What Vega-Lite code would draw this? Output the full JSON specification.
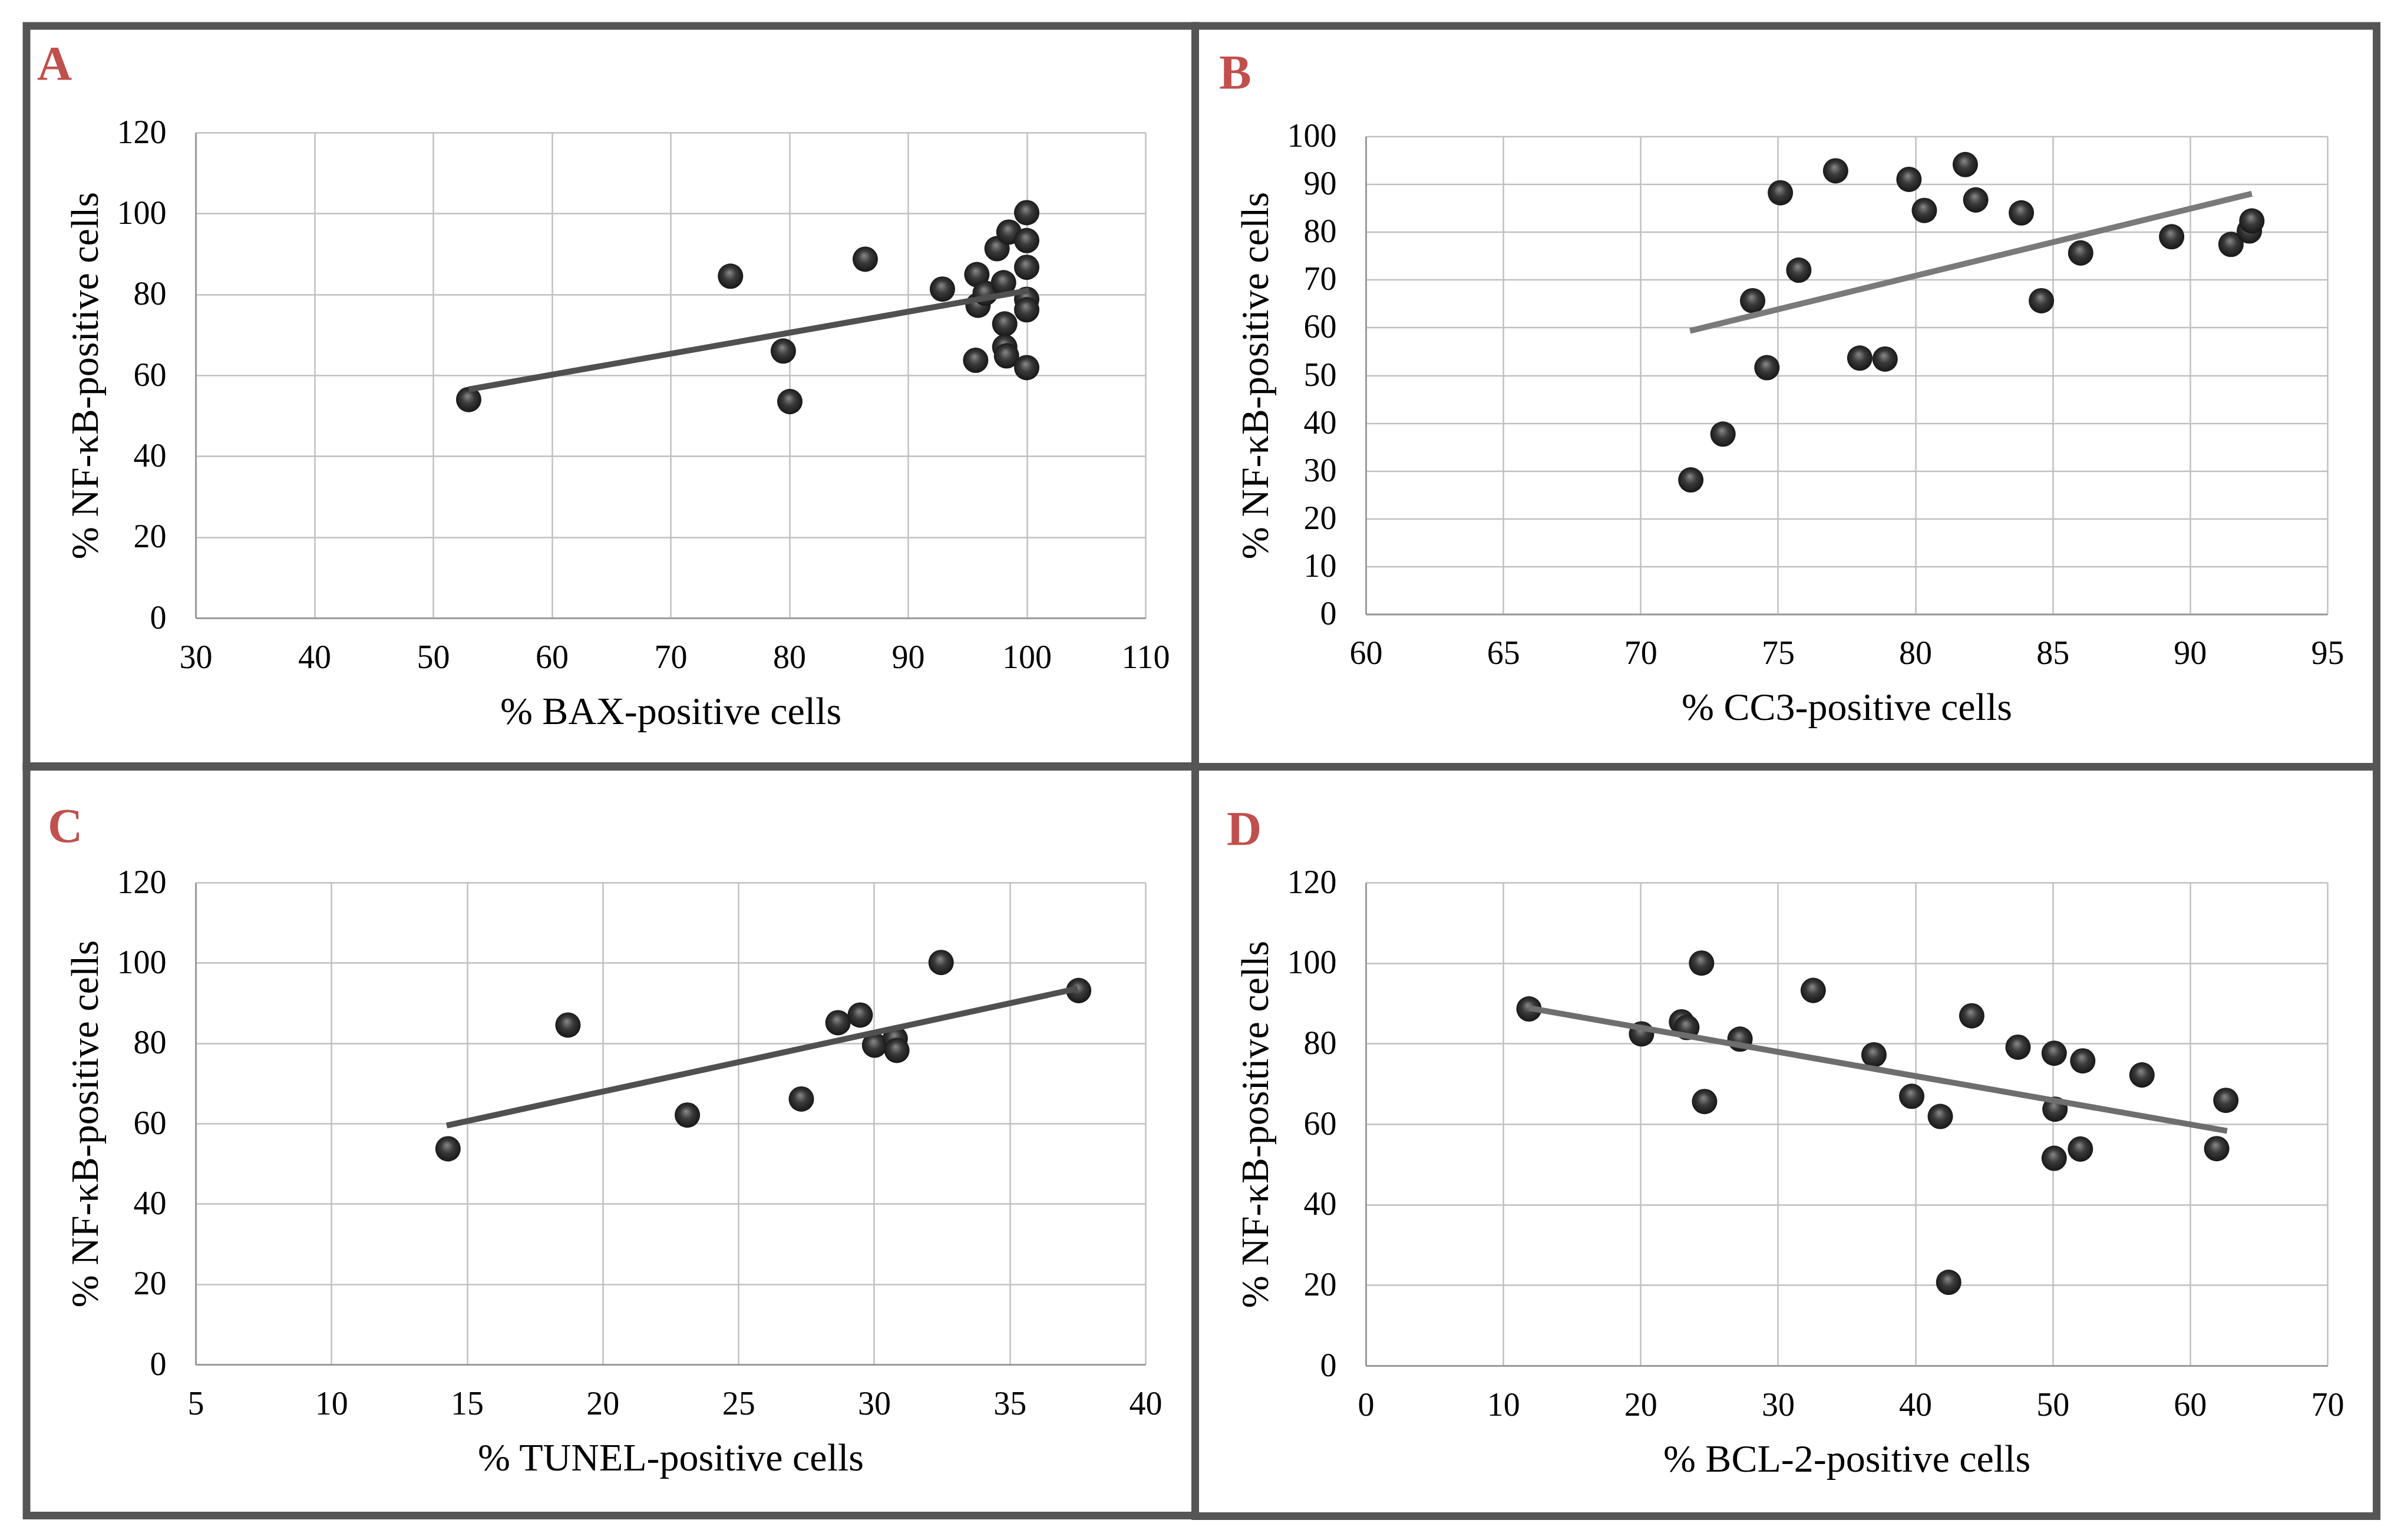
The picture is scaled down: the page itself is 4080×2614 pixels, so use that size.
{
  "$schema": "https://vega.github.io/schema/vega-lite/v6.json",
  "background": "white",
  "padding": {"left": 38, "top": 37, "right": 38, "bottom": 30},
  "config": {
    "view": {"stroke": null},
    "axis": {
      "grid": true,
      "labelFont": "Liberation Serif", "labelFontSize": 56, "labelColor": "#000000",
      "titleFont": "Liberation Serif", "titleFontSize": 66, "titleFontWeight": "normal", "titleColor": "#000000",
      "ticks": false, "gridColor": "#c0c0c0", "gridWidth": 2.5, "gridOpacity": 1,
      "domainColor": "#9a9a9a", "domainWidth": 3,
      "labelFlush": false, "labelOverlap": false, "labelBound": false
    },
    "axisX": {"labelPadding": 40, "titlePadding": 32},
    "axisY": {"labelPadding": 50, "titlePadding": 19}
  },
  "datasets": {
    "one": [{"k": 1}],
    "A_points": [
      {"x": 53, "y": 54}, {"x": 75.05, "y": 84.5}, {"x": 79.5, "y": 66.0}, {"x": 80.05, "y": 53.5},
      {"x": 86.4, "y": 88.7}, {"x": 92.9, "y": 81.3}, {"x": 95.8, "y": 84.9}, {"x": 95.9, "y": 77.3},
      {"x": 96.5, "y": 80.3}, {"x": 95.7, "y": 63.7}, {"x": 97.5, "y": 91.3}, {"x": 98.5, "y": 95.4},
      {"x": 98.05, "y": 82.9}, {"x": 98.15, "y": 72.7}, {"x": 98.15, "y": 67.0}, {"x": 98.3, "y": 64.8},
      {"x": 100, "y": 100.2}, {"x": 100, "y": 93.3}, {"x": 100, "y": 86.7}, {"x": 100, "y": 78.8},
      {"x": 100, "y": 76.2}, {"x": 100, "y": 61.9}
    ],
    "A_fit": [{"x": 53, "y": 56.5}, {"x": 100.2, "y": 81}],
    "B_points": [
      {"x": 71.83, "y": 28.1}, {"x": 73.0, "y": 37.7}, {"x": 74.08, "y": 65.6}, {"x": 74.6, "y": 51.6},
      {"x": 75.09, "y": 88.2}, {"x": 75.76, "y": 72.0}, {"x": 77.1, "y": 92.8}, {"x": 77.98, "y": 53.6},
      {"x": 78.9, "y": 53.4}, {"x": 79.77, "y": 91.0}, {"x": 80.33, "y": 84.5}, {"x": 81.82, "y": 94.1},
      {"x": 82.2, "y": 86.7}, {"x": 83.86, "y": 84.0}, {"x": 84.59, "y": 65.6}, {"x": 86.02, "y": 75.6},
      {"x": 89.33, "y": 79.0}, {"x": 91.49, "y": 77.4}, {"x": 92.16, "y": 80.2}, {"x": 92.25, "y": 82.3}
    ],
    "B_fit": [{"x": 71.8, "y": 59.3}, {"x": 92.25, "y": 88.0}],
    "C_points": [
      {"x": 14.3, "y": 53.7}, {"x": 18.72, "y": 84.5}, {"x": 23.12, "y": 62.1}, {"x": 27.32, "y": 66.1},
      {"x": 28.67, "y": 85.1}, {"x": 29.49, "y": 87.0}, {"x": 30.02, "y": 79.5}, {"x": 30.78, "y": 81.1},
      {"x": 30.84, "y": 78.2}, {"x": 32.47, "y": 100.1}, {"x": 37.54, "y": 93.1}
    ],
    "C_fit": [{"x": 14.25, "y": 59.5}, {"x": 37.5, "y": 93.6}],
    "D_points": [
      {"x": 11.88, "y": 88.6}, {"x": 20.07, "y": 82.4}, {"x": 22.98, "y": 85.4}, {"x": 23.37, "y": 84.0},
      {"x": 24.44, "y": 100.0}, {"x": 24.66, "y": 65.6}, {"x": 27.24, "y": 81.1}, {"x": 32.57, "y": 93.2},
      {"x": 36.99, "y": 77.2}, {"x": 39.74, "y": 66.9}, {"x": 41.82, "y": 61.9}, {"x": 42.43, "y": 20.7},
      {"x": 44.11, "y": 86.9}, {"x": 47.48, "y": 79.1}, {"x": 50.11, "y": 77.6}, {"x": 50.17, "y": 63.7},
      {"x": 50.11, "y": 51.5}, {"x": 52.02, "y": 53.8}, {"x": 52.19, "y": 75.7}, {"x": 56.5, "y": 72.2},
      {"x": 61.94, "y": 53.9}, {"x": 62.61, "y": 65.9}
    ],
    "D_fit": [{"x": 11.9, "y": 88.8}, {"x": 62.7, "y": 58.3}]
  },
  "columns": 2,
  "bounds": "flush",
  "center": true,
  "spacing": {"row": 449, "column": 374},
  "concat": [
    {
      "width": 1612, "height": 824,
      "layer": [
        {
          "data": {"name": "one"},
          "mark": {"type": "rect", "fillOpacity": 0, "stroke": "#555555", "strokeWidth": 13},
          "encoding": {
            "x": {"datum": 15.757, "type": "quantitative", "scale": {"domain": [30, 110], "nice": false, "zero": false}},
            "x2": {"datum": 114.193},
            "y": {"datum": 146.359, "type": "quantitative", "scale": {"domain": [0, 120], "nice": false}},
            "y2": {"datum": -36.772}
          }
        },
        {
          "data": {"name": "one"},
          "mark": {"type": "text", "text": "A", "font": "Liberation Serif", "fontWeight": "bold", "fontSize": 82, "fill": "#c0504d", "align": "left", "baseline": "alphabetic"},
          "encoding": {
            "x": {"datum": 16.65, "type": "quantitative", "scale": {"domain": [30, 110], "nice": false, "zero": false}},
            "y": {"datum": 133.11, "type": "quantitative", "scale": {"domain": [0, 120], "nice": false}}
          }
        },
        {
          "data": {"name": "A_points"},
          "mark": {"type": "point", "shape": "circle", "filled": true, "size": 1850, "opacity": 1, "strokeWidth": 0,
            "fill": {"gradient": "radial", "x1": 0.45, "y1": 0.35, "r1": 0, "x2": 0.5, "y2": 0.5, "r2": 0.55,
              "stops": [{"offset": 0, "color": "#8a8a8a"}, {"offset": 0.45, "color": "#3a3a3a"}, {"offset": 1, "color": "#121212"}]}},
          "encoding": {
            "x": {"field": "x", "type": "quantitative", "scale": {"domain": [30, 110], "nice": false, "zero": false},
              "axis": {"grid": true, "values": [30, 40, 50, 60, 70, 80, 90, 100, 110], "title": "% BAX-positive cells"}},
            "y": {"field": "y", "type": "quantitative", "scale": {"domain": [0, 120], "nice": false},
              "axis": {"grid": true, "values": [0, 20, 40, 60, 80, 100, 120], "title": "% NF-κB-positive cells"}}
          }
        },
        {
          "data": {"name": "A_fit"},
          "mark": {"type": "line", "stroke": "#505050", "strokeWidth": 10, "strokeCap": "butt"},
          "encoding": {
            "x": {"field": "x", "type": "quantitative", "scale": {"domain": [30, 110], "nice": false, "zero": false}},
            "y": {"field": "y", "type": "quantitative", "scale": {"domain": [0, 120], "nice": false}}
          }
        }
      ]
    },
    {
      "width": 1632, "height": 811,
      "layer": [
        {
          "data": {"name": "one"},
          "mark": {"type": "rect", "fillOpacity": 0, "stroke": "#555555", "strokeWidth": 13},
          "encoding": {
            "x": {"datum": 53.791, "type": "quantitative", "scale": {"domain": [60, 95], "nice": false, "zero": false}},
            "x2": {"datum": 96.791},
            "y": {"datum": 123.12, "type": "quantitative", "scale": {"domain": [0, 100], "nice": false}},
            "y2": {"datum": -31.936}
          }
        },
        {
          "data": {"name": "one"},
          "mark": {"type": "text", "text": "B", "font": "Liberation Serif", "fontWeight": "bold", "fontSize": 82, "fill": "#c0504d", "align": "left", "baseline": "alphabetic"},
          "encoding": {
            "x": {"datum": 54.66, "type": "quantitative", "scale": {"domain": [60, 95], "nice": false, "zero": false}},
            "y": {"datum": 110.05, "type": "quantitative", "scale": {"domain": [0, 100], "nice": false}}
          }
        },
        {
          "data": {"name": "B_points"},
          "mark": {"type": "point", "shape": "circle", "filled": true, "size": 1850, "opacity": 1, "strokeWidth": 0,
            "fill": {"gradient": "radial", "x1": 0.45, "y1": 0.35, "r1": 0, "x2": 0.5, "y2": 0.5, "r2": 0.55,
              "stops": [{"offset": 0, "color": "#8a8a8a"}, {"offset": 0.45, "color": "#3a3a3a"}, {"offset": 1, "color": "#121212"}]}},
          "encoding": {
            "x": {"field": "x", "type": "quantitative", "scale": {"domain": [60, 95], "nice": false, "zero": false},
              "axis": {"grid": true, "values": [60, 65, 70, 75, 80, 85, 90, 95], "title": "% CC3-positive cells"}},
            "y": {"field": "y", "type": "quantitative", "scale": {"domain": [0, 100], "nice": false},
              "axis": {"grid": true, "values": [0, 10, 20, 30, 40, 50, 60, 70, 80, 90, 100], "title": "% NF-κB-positive cells"}}
          }
        },
        {
          "data": {"name": "B_fit"},
          "mark": {"type": "line", "stroke": "#7a7a7a", "strokeWidth": 10, "strokeCap": "butt"},
          "encoding": {
            "x": {"field": "x", "type": "quantitative", "scale": {"domain": [60, 95], "nice": false, "zero": false}},
            "y": {"field": "y", "type": "quantitative", "scale": {"domain": [0, 100], "nice": false}}
          }
        }
      ]
    },
    {
      "width": 1612, "height": 818,
      "layer": [
        {
          "data": {"name": "one"},
          "mark": {"type": "rect", "fillOpacity": 0, "stroke": "#555555", "strokeWidth": 13},
          "encoding": {
            "x": {"datum": -1.231, "type": "quantitative", "scale": {"domain": [5, 40], "nice": false, "zero": false}},
            "x2": {"datum": 41.834},
            "y": {"datum": 148.973, "type": "quantitative", "scale": {"domain": [0, 120], "nice": false}},
            "y2": {"datum": -37.628}
          }
        },
        {
          "data": {"name": "one"},
          "mark": {"type": "text", "text": "C", "font": "Liberation Serif", "fontWeight": "bold", "fontSize": 82, "fill": "#c0504d", "align": "left", "baseline": "alphabetic"},
          "encoding": {
            "x": {"datum": -0.45, "type": "quantitative", "scale": {"domain": [5, 40], "nice": false, "zero": false}},
            "y": {"datum": 130.12, "type": "quantitative", "scale": {"domain": [0, 120], "nice": false}}
          }
        },
        {
          "data": {"name": "C_points"},
          "mark": {"type": "point", "shape": "circle", "filled": true, "size": 1850, "opacity": 1, "strokeWidth": 0,
            "fill": {"gradient": "radial", "x1": 0.45, "y1": 0.35, "r1": 0, "x2": 0.5, "y2": 0.5, "r2": 0.55,
              "stops": [{"offset": 0, "color": "#8a8a8a"}, {"offset": 0.45, "color": "#3a3a3a"}, {"offset": 1, "color": "#121212"}]}},
          "encoding": {
            "x": {"field": "x", "type": "quantitative", "scale": {"domain": [5, 40], "nice": false, "zero": false},
              "axis": {"grid": true, "values": [5, 10, 15, 20, 25, 30, 35, 40], "title": "% TUNEL-positive cells"}},
            "y": {"field": "y", "type": "quantitative", "scale": {"domain": [0, 120], "nice": false},
              "axis": {"grid": true, "values": [0, 20, 40, 60, 80, 100, 120], "title": "% NF-κB-positive cells"}}
          }
        },
        {
          "data": {"name": "C_fit"},
          "mark": {"type": "line", "stroke": "#505050", "strokeWidth": 10, "strokeCap": "butt"},
          "encoding": {
            "x": {"field": "x", "type": "quantitative", "scale": {"domain": [5, 40], "nice": false, "zero": false}},
            "y": {"field": "y", "type": "quantitative", "scale": {"domain": [0, 120], "nice": false}}
          }
        }
      ]
    },
    {
      "width": 1632, "height": 820,
      "layer": [
        {
          "data": {"name": "one"},
          "mark": {"type": "rect", "fillOpacity": 0, "stroke": "#555555", "strokeWidth": 13},
          "encoding": {
            "x": {"datum": -12.417, "type": "quantitative", "scale": {"domain": [0, 70], "nice": false, "zero": false}},
            "x2": {"datum": 73.581},
            "y": {"datum": 148.756, "type": "quantitative", "scale": {"domain": [0, 120], "nice": false}},
            "y2": {"datum": -37.39}
          }
        },
        {
          "data": {"name": "one"},
          "mark": {"type": "text", "text": "D", "font": "Liberation Serif", "fontWeight": "bold", "fontSize": 82, "fill": "#c0504d", "align": "left", "baseline": "alphabetic"},
          "encoding": {
            "x": {"datum": -10.12, "type": "quantitative", "scale": {"domain": [0, 70], "nice": false, "zero": false}},
            "y": {"datum": 129.37, "type": "quantitative", "scale": {"domain": [0, 120], "nice": false}}
          }
        },
        {
          "data": {"name": "D_points"},
          "mark": {"type": "point", "shape": "circle", "filled": true, "size": 1850, "opacity": 1, "strokeWidth": 0,
            "fill": {"gradient": "radial", "x1": 0.45, "y1": 0.35, "r1": 0, "x2": 0.5, "y2": 0.5, "r2": 0.55,
              "stops": [{"offset": 0, "color": "#8a8a8a"}, {"offset": 0.45, "color": "#3a3a3a"}, {"offset": 1, "color": "#121212"}]}},
          "encoding": {
            "x": {"field": "x", "type": "quantitative", "scale": {"domain": [0, 70], "nice": false, "zero": false},
              "axis": {"grid": true, "values": [0, 10, 20, 30, 40, 50, 60, 70], "title": "% BCL-2-positive cells"}},
            "y": {"field": "y", "type": "quantitative", "scale": {"domain": [0, 120], "nice": false},
              "axis": {"grid": true, "values": [0, 20, 40, 60, 80, 100, 120], "title": "% NF-κB-positive cells"}}
          }
        },
        {
          "data": {"name": "D_fit"},
          "mark": {"type": "line", "stroke": "#6e6e6e", "strokeWidth": 10, "strokeCap": "butt"},
          "encoding": {
            "x": {"field": "x", "type": "quantitative", "scale": {"domain": [0, 70], "nice": false, "zero": false}},
            "y": {"field": "y", "type": "quantitative", "scale": {"domain": [0, 120], "nice": false}}
          }
        }
      ]
    }
  ]
}
